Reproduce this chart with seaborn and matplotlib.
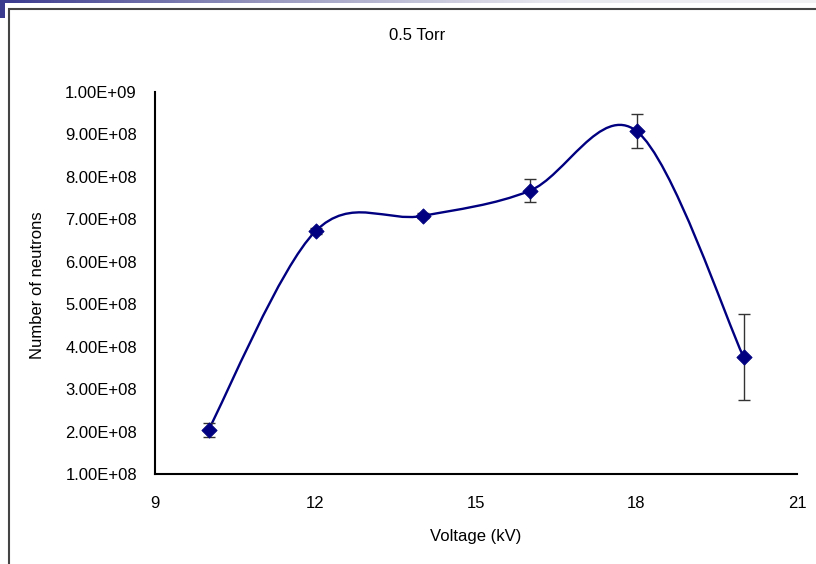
import matplotlib
matplotlib.use('Agg')
import matplotlib.pyplot as plt
import seaborn as sns
import numpy as np
import pandas as pd
from matplotlib.path import Path
from matplotlib.patches import PathPatch, Rectangle

# Données (0.5 Torr)
voltage = [10, 12, 14, 16, 18, 20]
neutrons = [2.04e8, 6.72e8, 7.08e8, 7.67e8, 9.08e8, 3.76e8]
erreur = [0.16e8, 0.07e8, 0.06e8, 0.27e8, 0.41e8, 1.02e8]
x_ticks = [9, 12, 15, 18, 21]
y_ticks = [1e8, 2e8, 3e8, 4e8, 5e8, 6e8, 7e8, 8e8, 9e8, 1e9]

df = pd.DataFrame({'Voltage': voltage, 'Neutrons': neutrons, 'Erreur': erreur})

sns.set_style('white')
plt.rcParams['font.family'] = ['Liberation Sans', 'DejaVu Sans']
plt.rcParams['text.color'] = 'black'

fig = plt.figure(figsize=(8.16, 5.64), dpi=100)
ax = fig.add_axes([155 / 816, 90 / 564, 642 / 816, 382 / 564])

# Courbe lissée façon Excel (Bezier, tension 1/6)
pts = np.column_stack([df['Voltage'], df['Neutrons']]).astype(float)
verts = [pts[0]]
codes = [Path.MOVETO]
n = len(pts)
for i in range(n - 1):
    p0 = pts[max(i - 1, 0)]
    p1 = pts[i]
    p2 = pts[i + 1]
    p3 = pts[min(i + 2, n - 1)]
    verts += [p1 + (p2 - p0) / 6, p2 - (p3 - p1) / 6, p2]
    codes += [Path.CURVE4] * 3
ax.add_patch(PathPatch(Path(verts, codes), fill=False, edgecolor='#000080', lw=1.7, zorder=2))

# Barres d'erreur
ax.errorbar(df['Voltage'], df['Neutrons'], yerr=df['Erreur'], fmt='none',
            ecolor='#333333', elinewidth=1, capsize=4, capthick=1, zorder=3)

# Points
sns.scatterplot(data=df, x='Voltage', y='Neutrons', marker='D', s=60,
                color='#000080', edgecolor='#000080', ax=ax, zorder=4)

ax.set_xlim(9, 21)
ax.set_ylim(1e8, 1e9)
ax.set_xticks(x_ticks)
ax.set_yticks(y_ticks)
ax.set_yticklabels(['%.2fE+%02d' % (v / 10 ** int(np.floor(np.log10(v))), int(np.floor(np.log10(v)))) for v in y_ticks])
ax.set_xticklabels([str(v) for v in x_ticks])
ax.tick_params(axis='both', direction='out', length=5, width=1.5, color='black',
               labelsize=12, labelcolor='black')
ax.tick_params(axis='y', pad=8)
ax.tick_params(axis='x', pad=11)
ax.set_xlabel('')
ax.set_ylabel('')
for s in ['top', 'right']:
    ax.spines[s].set_visible(False)
for s in ['left', 'bottom']:
    ax.spines[s].set_color('black')
    ax.spines[s].set_linewidth(1.5)
ax.grid(False)

# Textes
fig.text(417 / 816, 1 - 36 / 564, '0.5 Torr', ha='center', va='center', fontsize=12, color='black')
fig.text(476 / 816, 1 - 537 / 564, 'Voltage (kV)', ha='center', va='center', fontsize=12, color='black')
fig.text(38 / 816, 1 - 285 / 564, 'Number of neutrons', ha='center', va='center',
         rotation=90, fontsize=12, color='black')

# Décor de la diapositive : bandeau dégradé, barre bleue, cadre
bande = fig.add_axes([0, 1 - 3.5 / 564, 1, 3.5 / 564])
grad = np.linspace(0, 1, 256).reshape(1, -1)
cmap = matplotlib.colors.LinearSegmentedColormap.from_list('bande', ['#3a3a8f', '#9a9ac0', '#e6e6ee', '#f2f2f5'])
bande.imshow(grad, aspect='auto', cmap=cmap)
bande.axis('off')
fig.add_artist(Rectangle((0, 1 - 18 / 564), 5 / 816, 18 / 564, transform=fig.transFigure,
                         facecolor='#3a3a8f', edgecolor='none'))
fig.add_artist(Rectangle((8.5 / 816, -0.1), 1.2, 1 - 9 / 564 + 0.1, transform=fig.transFigure,
                         facecolor='none', edgecolor='#444444', lw=1.5))

plt.savefig('out.png', dpi=100)
plt.close()
